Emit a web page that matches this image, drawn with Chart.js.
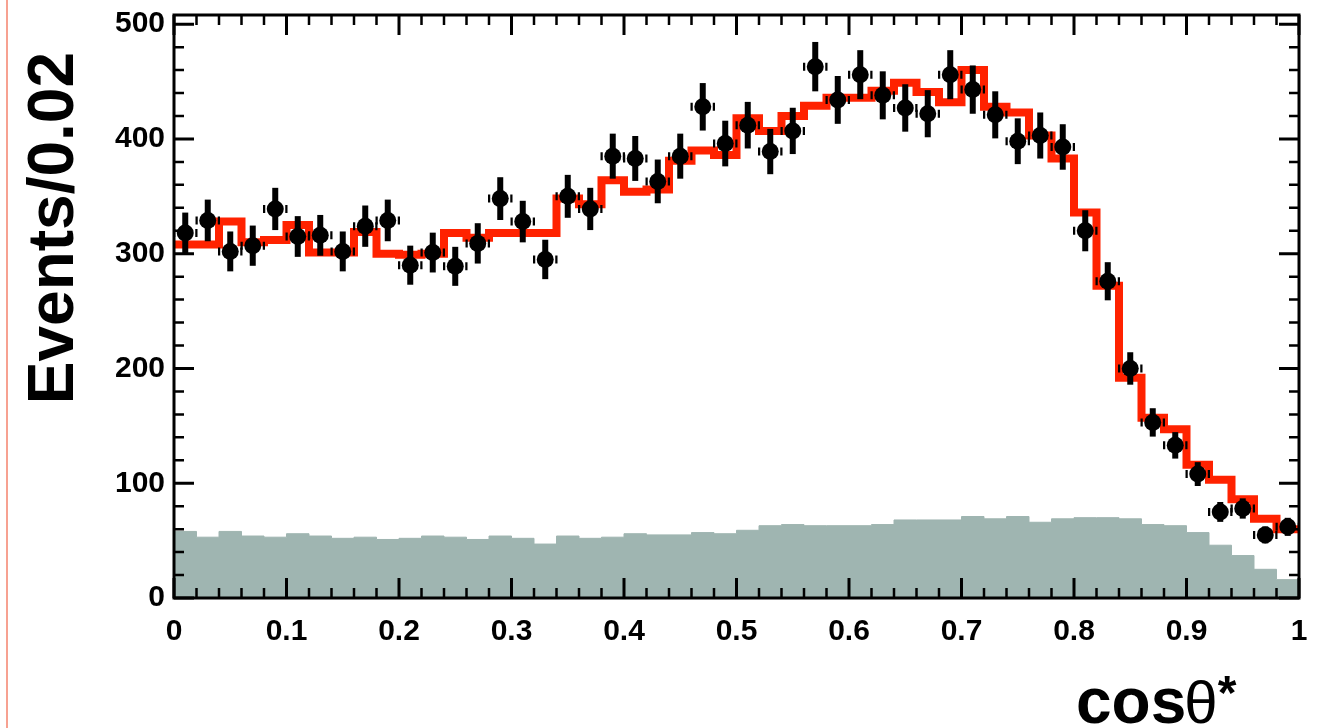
<!DOCTYPE html>
<html>
<head>
<meta charset="utf-8">
<script src="https://cdn.jsdelivr.net/npm/chart.js@4/dist/chart.umd.min.js"></script>
<style>
html, body { margin: 0; padding: 0; background: #fff; }
#wrap { width: 1318px; height: 728px; }
</style>
</head>
<body>
<div id="wrap"><canvas id="graph" width="1318" height="728"></canvas></div>
<script>
// cos(theta*) in 50 bins of 0.02
var binWidth = 0.02;
var nBins = 50;

// data points (events per bin)
var dataCounts = [318, 329, 302, 307, 339, 315, 316, 302, 324, 329,
                  290, 301, 289, 309, 348, 328, 295, 350, 339, 385,
                  383, 363, 385, 428, 396, 412, 389, 407, 463, 434,
                  456, 438, 427, 422, 456, 443, 421, 398, 403, 393,
                  320, 276, 200, 153, 133, 108, 75, 78, 55, 62];

// fit result (red histogram)
var fitCounts = [308, 308, 328, 310, 312, 325, 301, 301, 319, 300,
                 299, 300, 318, 314, 318, 318, 318, 348, 343, 364,
                 354, 356, 381, 390, 386, 418, 407, 420, 429, 436,
                 436, 442, 449, 441, 432, 460, 428, 423, 403, 383,
                 336, 272, 192, 157, 147, 116, 103, 86, 69, 60];

// background (grey filled histogram)
var bgCounts = [58, 53, 58, 54, 53, 56, 54, 52, 53, 51,
                52, 54, 53, 51, 54, 52, 47, 54, 52, 53,
                56, 55, 55, 57, 56, 59, 63, 64, 63, 63,
                63, 64, 68, 68, 68, 71, 69, 71, 66, 69,
                70, 70, 69, 64, 63, 57, 46, 37, 25, 16];

var xTickLabels = [0, 0.1, 0.2, 0.3, 0.4, 0.5, 0.6, 0.7, 0.8, 0.9, 1];
var yTickLabels = [0, 100, 200, 300, 400, 500];
var yMax = 508;

var fontFamily = "'Liberation Sans', Arial, Helvetica, sans-serif";

// bin low edges + closing point at x = 1, drawn with stepped 'before'
function stepPoints(values) {
    var pts = values.map(function (v, i) { return { x: i * binWidth, y: v }; });
    pts.push({ x: nBins * binWidth, y: values[values.length - 1] });
    return pts;
}

var markerPoints = dataCounts.map(function (v, i) {
    return { x: (i + 0.5) * binWidth, y: v };
});

// vertical error bars + the ends of the horizontal ones (rest is hidden by the marker)
var errorBars = {
    id: 'errorBars',
    beforeDatasetDraw: function (chart, args) {
        if (args.index !== 0) return;
        var ctx = chart.ctx, xs = chart.scales.x, ys = chart.scales.y;
        ctx.save();
        ctx.strokeStyle = '#000';
        dataCounts.forEach(function (n, i) {
            var c = (i + 0.5) * binWidth;
            var px = xs.getPixelForValue(c);
            var py = ys.getPixelForValue(n);
            var half = xs.getPixelForValue(c + 0.5 * binWidth) - px;
            var e = Math.sqrt(n);
            ctx.lineWidth = 6;
            ctx.beginPath();
            ctx.moveTo(px, ys.getPixelForValue(n + e));
            ctx.lineTo(px, ys.getPixelForValue(n - e));
            ctx.stroke();
            ctx.lineWidth = 8;
            ctx.beginPath();
            ctx.moveTo(px - half - 1, py); ctx.lineTo(px - 10, py);
            ctx.moveTo(px + 10, py); ctx.lineTo(px + half + 1, py);
            ctx.stroke();
        });
        ctx.restore();
    }
};

// ROOT style frame with inner ticks, axis titles
var rootFrame = {
    id: 'rootFrame',
    afterDraw: function (chart) {
        var ctx = chart.ctx, ca = chart.chartArea;
        var xs = chart.scales.x, ys = chart.scales.y;
        ctx.save();
        ctx.strokeStyle = '#000';
        ctx.lineCap = 'butt';
        var k, p, len;
        for (k = 0; k <= nBins; k++) {
            p = xs.getPixelForValue(k * binWidth);
            len = (k % 5 === 0) ? 20 : 10;
            ctx.lineWidth = (k % 5 === 0) ? 3 : 2.5;
            ctx.beginPath();
            ctx.moveTo(p, ca.bottom); ctx.lineTo(p, ca.bottom - len);
            ctx.moveTo(p, ca.top); ctx.lineTo(p, ca.top + len);
            ctx.stroke();
        }
        for (k = 0; k * 20 <= yMax; k++) {
            p = ys.getPixelForValue(k * 20);
            len = (k % 5 === 0) ? 20 : 10;
            ctx.lineWidth = (k % 5 === 0) ? 3 : 2.5;
            ctx.beginPath();
            ctx.moveTo(ca.left, p); ctx.lineTo(ca.left + len, p);
            ctx.moveTo(ca.right, p); ctx.lineTo(ca.right - len, p);
            ctx.stroke();
        }
        ctx.lineWidth = 3;
        ctx.strokeRect(ca.left, ca.top, ca.right - ca.left, ca.bottom - ca.top);

        // y title
        ctx.fillStyle = '#000';
        ctx.font = 'bold 64px ' + fontFamily;
        ctx.save();
        ctx.translate(73, 52);
        ctx.rotate(-Math.PI / 2);
        ctx.textAlign = 'right';
        ctx.textBaseline = 'alphabetic';
        ctx.fillText('Events/0.02', 0, 0);
        ctx.restore();

        // x title: cos theta*
        ctx.textAlign = 'left';
        ctx.textBaseline = 'alphabetic';
        var x0 = 1076, base = 723;
        ctx.font = 'bold 64px ' + fontFamily;
        ctx.fillText('cos', x0, base);
        x0 += ctx.measureText('cos').width;
        ctx.font = '60px ' + fontFamily;
        ctx.fillText('\u03b8', x0 - 2, base);
        x0 += ctx.measureText('\u03b8').width - 2;
        ctx.font = 'bold 48px ' + fontFamily;
        ctx.fillText('*', x0, base - 14);

        // slide border on the left
        ctx.strokeStyle = '#f4826c';
        ctx.lineWidth = 1.5;
        ctx.beginPath();
        ctx.moveTo(7, 0); ctx.lineTo(7, 728);
        ctx.stroke();
        ctx.restore();
    }
};

var tickFont = { family: fontFamily, weight: 'bold', size: 30, lineHeight: 1 };

var canvas = document.querySelector('#graph');
var context = canvas.getContext('2d');

var myChart = new Chart(context, {
    type: 'scatter',
    data: {
        datasets: [
            {
                label: 'Data',
                type: 'scatter',
                data: markerPoints,
                pointRadius: 8.5,
                pointBackgroundColor: '#000',
                pointBorderColor: '#000',
                pointBorderWidth: 0
            },
            {
                label: 'Fit',
                type: 'line',
                data: stepPoints(fitCounts),
                stepped: 'before',
                borderColor: '#ff2200',
                borderWidth: 8,
                pointRadius: 0,
                fill: false
            },
            {
                label: 'Background',
                type: 'line',
                data: stepPoints(bgCounts),
                stepped: 'before',
                borderColor: '#9fb5b1',
                borderWidth: 1,
                backgroundColor: '#9fb5b1',
                pointRadius: 0,
                fill: 'origin'
            }
        ]
    },
    options: {
        responsive: false,
        animation: false,
        devicePixelRatio: 1,
        layout: { padding: { left: 0, right: 19, top: 15, bottom: 0 } },
        plugins: { legend: { display: false }, tooltip: { enabled: false } },
        scales: {
            x: {
                type: 'linear',
                min: 0,
                max: 1,
                grid: { display: false, drawTicks: false },
                border: { display: false },
                afterBuildTicks: function (s) {
                    s.ticks = xTickLabels.map(function (v) { return { value: v }; });
                },
                afterFit: function (s) {
                    s.height = 130;
                    s.paddingLeft = 0;
                    s.paddingRight = 0;
                },
                ticks: {
                    autoSkip: false,
                    maxRotation: 0,
                    padding: 19,
                    color: '#000',
                    font: tickFont,
                    callback: function (v) { return String(+Number(v).toFixed(1)); }
                }
            },
            y: {
                type: 'linear',
                min: 0,
                max: yMax,
                grid: { display: false, drawTicks: false },
                border: { display: false },
                afterBuildTicks: function (s) {
                    s.ticks = yTickLabels.map(function (v) { return { value: v }; });
                },
                afterFit: function (s) {
                    s.width = 174;
                    s.paddingTop = 0;
                    s.paddingBottom = 0;
                },
                ticks: {
                    padding: 9,
                    color: '#000',
                    font: tickFont
                }
            }
        }
    },
    plugins: [errorBars, rootFrame]
});
</script>
</body>
</html>
